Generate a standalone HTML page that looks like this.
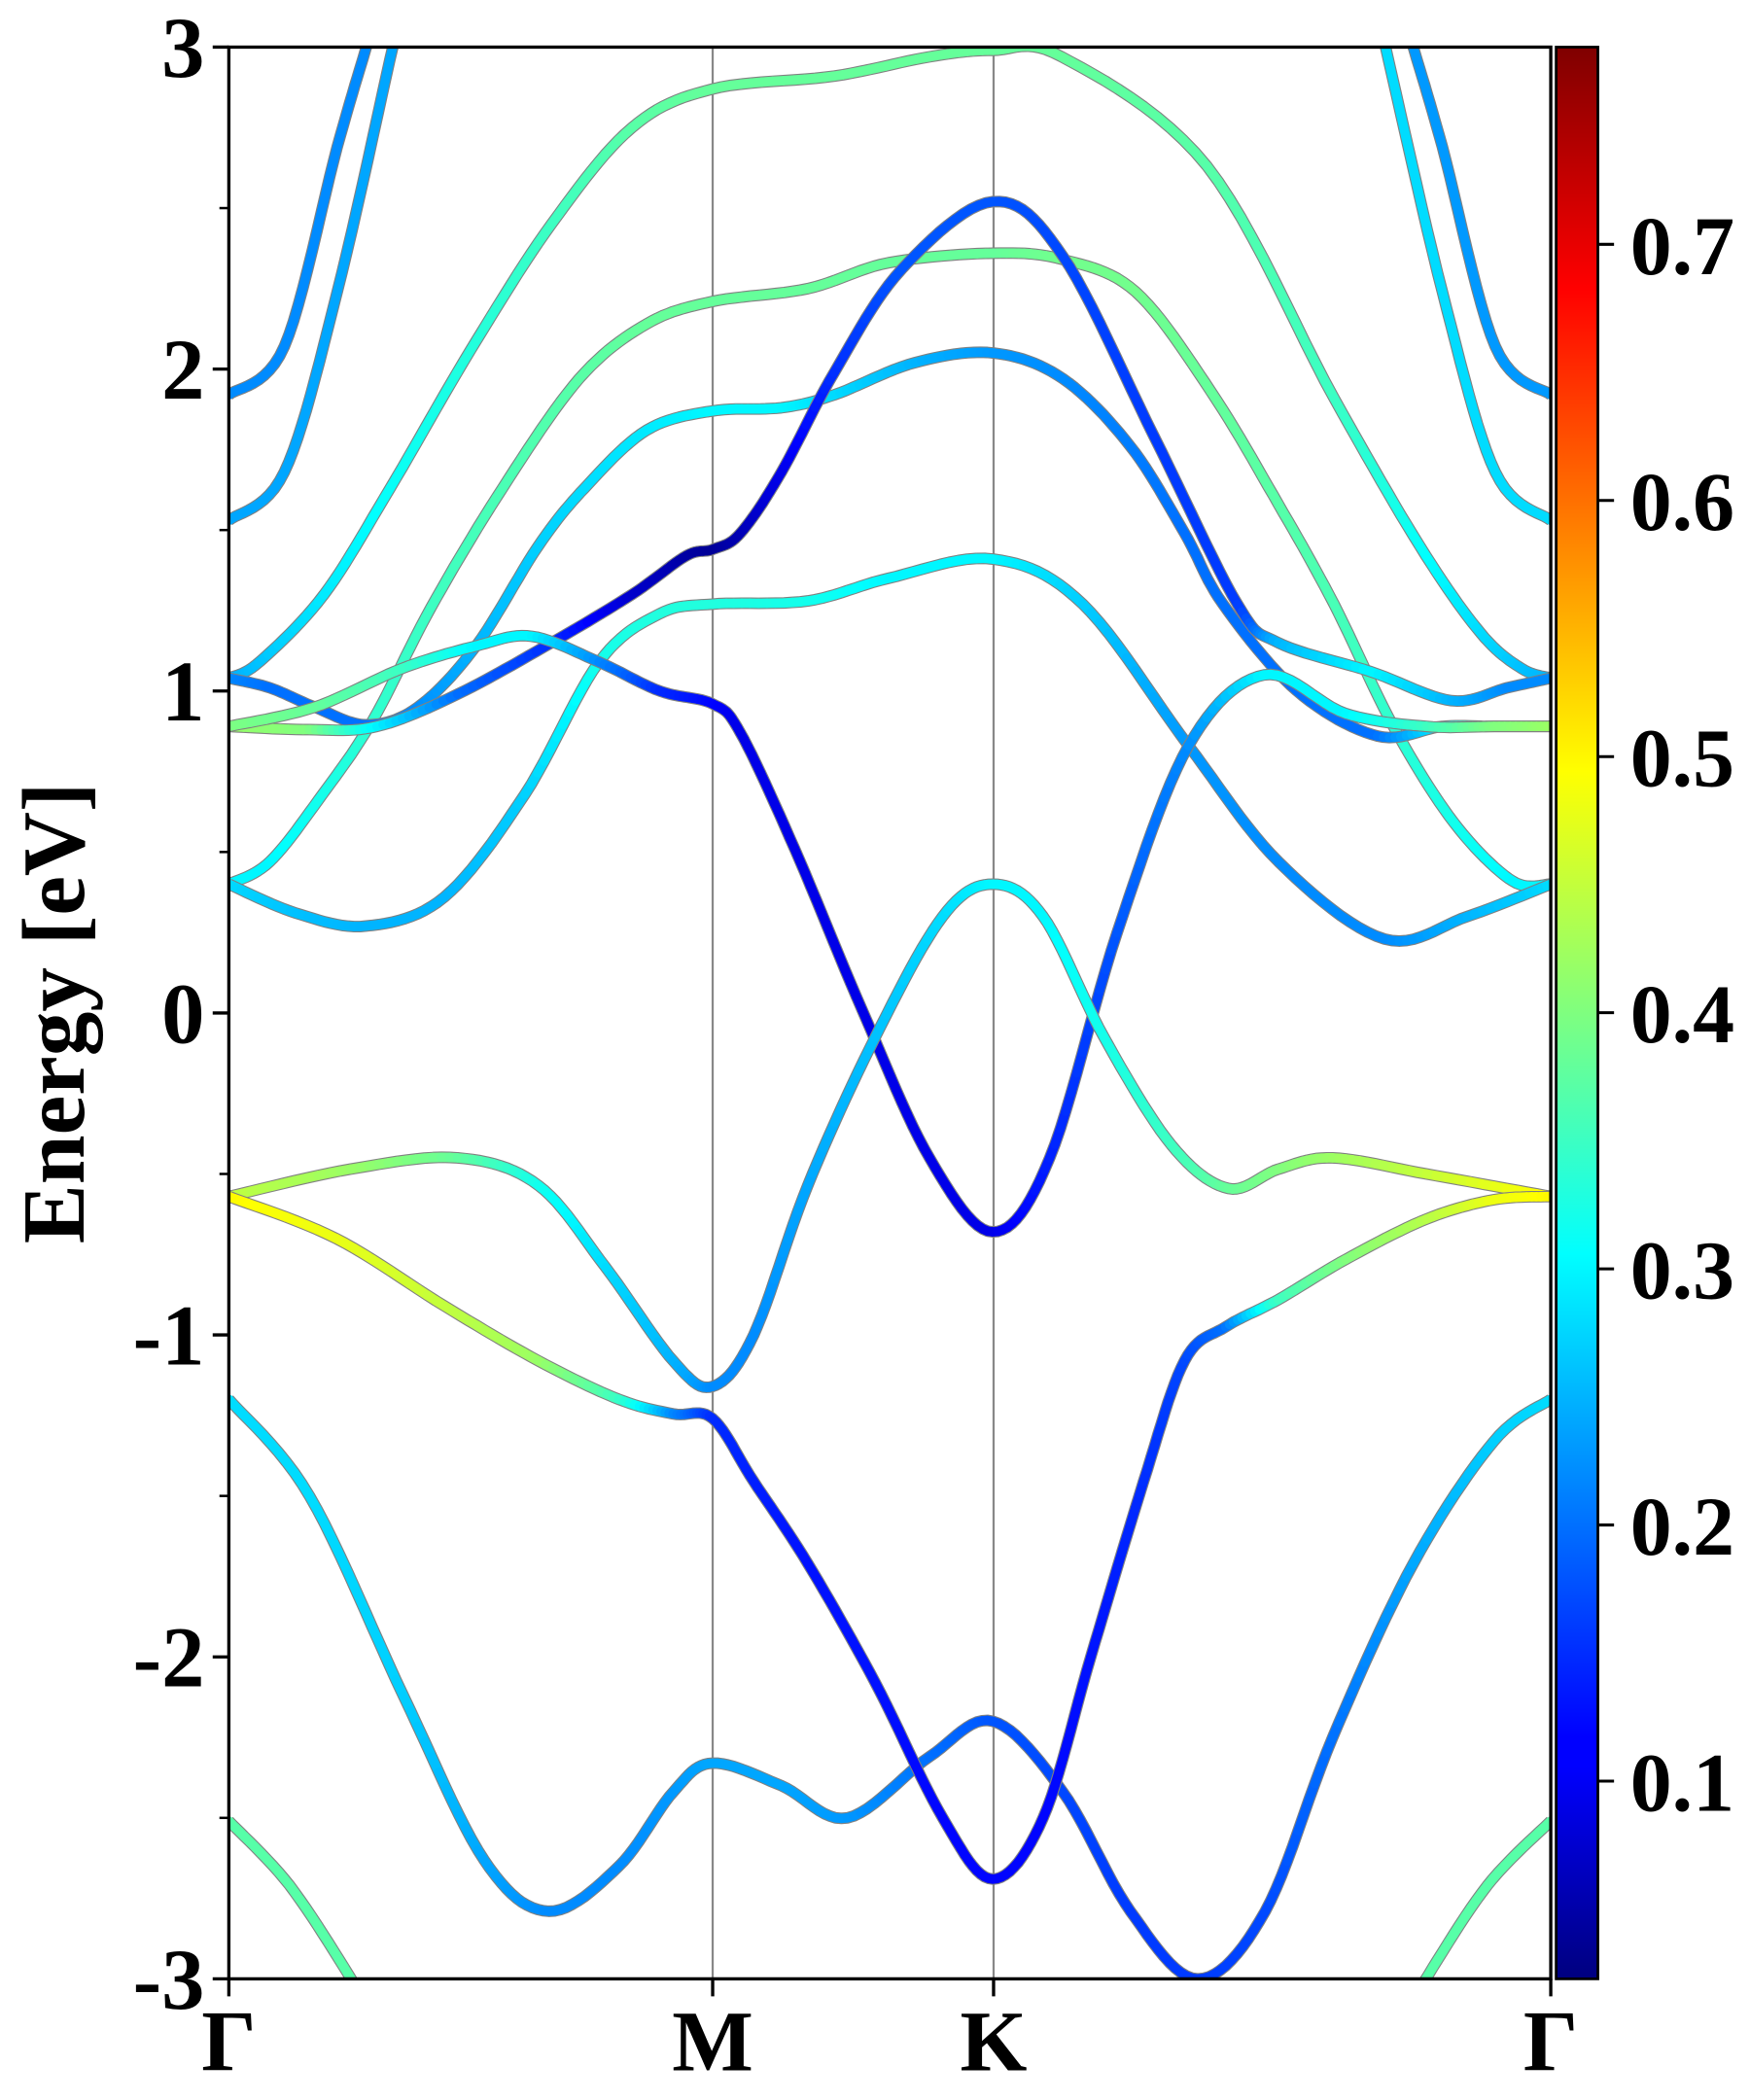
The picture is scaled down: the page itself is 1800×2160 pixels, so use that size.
<!DOCTYPE html>
<html><head><meta charset="utf-8"><style>
html,body{margin:0;padding:0;background:#fff;}
svg{display:block;}
text{font-family:"Liberation Serif",serif;font-weight:bold;fill:#000;}
</style></head><body>
<svg id="chart" xmlns="http://www.w3.org/2000/svg" width="1800" height="2160" viewBox="0 0 1300 1560" preserveAspectRatio="none">
<defs>
<clipPath id="plotclip"><rect x="170" y="35" width="982" height="1435"/></clipPath>
<linearGradient id="jet" x1="0" y1="1" x2="0" y2="0">
<stop offset="0" stop-color="#00007f"/><stop offset="0.11" stop-color="#0000ff"/><stop offset="0.125" stop-color="#0000ff"/>
<stop offset="0.375" stop-color="#00ffff"/><stop offset="0.5" stop-color="#7fff7f"/><stop offset="0.625" stop-color="#ffff00"/>
<stop offset="0.875" stop-color="#ff0000"/><stop offset="1" stop-color="#7f0000"/>
</linearGradient>
</defs>
<g id="bands" clip-path="url(#plotclip)"></g>
<g id="axes"></g>
</svg>
<script>
const kTicks = [0, 0.366, 0.5785, 1];
const kLabels = ["Γ", "M", "K", "Γ"];
const yTicks = [-3, -2, -1, 0, 1, 2, 3];
const yMinor = [-2.5, -1.5, -0.5, 0.5, 1.5, 2.5];
const cbTicks = [0.1, 0.2, 0.3, 0.4, 0.5, 0.6, 0.7];
const cbMin = 0.0228, cbMax = 0.777;

const b1k = [0,.023,.072,.122,.183,.244,.305,.366,.458,.530,.578,.630,.740,.836,.901,.947,.978,1];
const b1E = [1.04,1.09,1.30,1.63,2.06,2.45,2.75,2.87,2.91,2.97,2.99,2.97,2.63,1.91,1.45,1.18,1.07,1.04];
const b1w = [.24,.26,.29,.31,.33,.35,.37,.38,.38,.38,.38,.38,.37,.35,.31,.28,.26,.25];

const b2k = [0,.031,.071,.109,.153,.207,.265,.316,.366,.438,.499,.578,.631,.686,.743,.794,.836,.881,.927,.971,1];
const b2E = [.40,.47,.68,.91,1.26,1.63,1.97,2.14,2.21,2.25,2.33,2.36,2.34,2.24,1.93,1.58,1.27,.89,.59,.41,.40];
const b2w = [.3,.3,.32,.34,.35,.36,.37,.38,.38,.38,.38,.38,.39,.39,.38,.37,.36,.34,.32,.3,.3];

const b3k = [0,.031,.065,.104,.143,.187,.234,.269,.316,.366,.418,.458,.519,.578,.631,.682,.723,.752,.808,.869,.918,.957,1];
const b3E = [1.04,1.01,.95,.895,.95,1.14,1.45,1.63,1.81,1.87,1.88,1.92,2.02,2.05,1.97,1.76,1.49,1.27,1.00,.86,.89,.89,.89];
const b3w = [.22,.2,.2,.2,.22,.25,.27,.28,.29,.3,.3,.28,.25,.23,.22,.21,.2,.2,.2,.2,.3,.38,.4];

const b4k = [0,.061,.112,.173,.244,.305,.346,.366,.387,.418,.458,.509,.578,.631,.700,.763,.794,.864,.925,.967,1];
const b4E = [.89,.88,.89,.99,1.15,1.30,1.42,1.44,1.49,1.68,1.99,2.31,2.52,2.35,1.79,1.27,1.15,1.06,.97,1.01,1.04];
const b4w = [.42,.4,.3,.2,.15,.08,.05,.04,.06,.1,.15,.18,.18,.17,.16,.16,.25,.3,.25,.22,.22];

const b5k = [0,.065,.131,.187,.229,.280,.326,.366,.387,.428,.479,.530,.578,.621,.672,.726,.783,.845,.906,.957,1];
const b5E = [.89,.95,1.07,1.14,1.17,1.09,1.00,.96,.87,.51,.01,-.45,-.68,-.45,.25,.83,1.05,.93,.89,.89,.89];
const b5w = [.4,.38,.35,.3,.3,.22,.15,.12,.1,.1,.1,.1,.1,.14,.18,.22,.3,.3,.35,.4,.42];

const b6k = [0,.051,.104,.163,.224,.280,.326,.366,.438,.499,.578,.646,.726,.794,.874,.937,1];
const b6E = [.40,.31,.27,.36,.68,1.09,1.24,1.27,1.28,1.35,1.41,1.27,.83,.47,.23,.30,.40];
const b6w = [.28,.26,.25,.25,.27,.32,.33,.33,.32,.3,.3,.27,.23,.22,.22,.25,.28];

const b7k = [0,.092,.173,.234,.285,.336,.366,.397,.438,.489,.540,.578,.616,.662,.713,.756,.794,.835,.906,1];
const b7E = [-.57,-.485,-.45,-.535,-.79,-1.08,-1.16,-1.0,-.535,-.075,.30,.40,.30,-.075,-.41,-.545,-.485,-.45,-.50,-.57];
const b7w = [.45,.42,.38,.32,.28,.25,.22,.22,.24,.26,.28,.3,.3,.32,.35,.38,.4,.42,.45,.5];

const b8k = [0,.081,.163,.234,.295,.336,.366,.397,.438,.489,.540,.578,.616,.652,.692,.723,.754,.794,.845,.906,.957,1];
const b8E = [-.57,-.70,-.91,-1.08,-1.20,-1.245,-1.26,-1.455,-1.71,-2.08,-2.50,-2.69,-2.50,-2.0,-1.455,-1.08,-.975,-.89,-.765,-.64,-.58,-.57];
const b8w = [.5,.48,.45,.42,.35,.22,.15,.14,.13,.13,.12,.12,.12,.13,.15,.17,.2,.35,.4,.44,.48,.5];

const b9k = [0,.061,.132,.193,.242,.295,.336,.366,.418,.468,.530,.578,.631,.682,.733,.784,.835,.896,.957,1];
const b9E = [-1.20,-1.50,-2.12,-2.63,-2.79,-2.65,-2.42,-2.33,-2.40,-2.50,-2.31,-2.20,-2.42,-2.79,-3.00,-2.79,-2.25,-1.71,-1.33,-1.20];
const b9w = [.28,.28,.27,.24,.22,.22,.23,.24,.24,.23,.2,.18,.17,.16,.16,.17,.2,.24,.27,.28];

const b10Lk = [0,.046,.094,.122];
const b10Rk = [1,.952,.904,.876];
const b10E = [-2.51,-2.71,-3.01,-3.21];
const b10w = [.37,.37,.37,.37];

const topLk1 = [0,.042,.082,.104,.108];
const topRk1 = [1,.958,.918,.896,.892];
const topE1 = [1.92,2.07,2.69,3.0,3.06];
const topLk2 = [0,.042,.082,.124,.128];
const topRk2 = [1,.958,.918,.875,.871];
const topE2 = [1.53,1.68,2.24,3.0,3.06];
const topWL1 = [.22,.22,.22,.22,.22];
const topWR1 = [.23,.23,.23,.23,.23];
const topWL2 = [.24,.24,.24,.24,.24];
const topWR2 = [.28,.28,.28,.28,.28];

const X0 = 170, X1 = 1152, Y0 = 1470, Y1 = 35, Emin = -3, Emax = 3;
function xS(k){ return X0 + k*(X1-X0); }
function yS(e){ return Y0 - (e-Emin)/(Emax-Emin)*(Y0-Y1); }
function jet(w){
  let t = (w-cbMin)/(cbMax-cbMin); t = Math.max(0,Math.min(1,t));
  const r = Math.max(0,Math.min(1,1.5-Math.abs(4*t-3)));
  const g = Math.max(0,Math.min(1,1.5-Math.abs(4*t-2)));
  const b = Math.max(0,Math.min(1,1.5-Math.abs(4*t-1)));
  return `rgb(${Math.round(r*255)},${Math.round(g*255)},${Math.round(b*255)})`;
}
const NS = "http://www.w3.org/2000/svg";
const bandsG = document.getElementById('bands');
const axesG = document.getElementById('axes');

function sampleBand(ks, Es, ws){
  const P = ks.map((k,i)=>[xS(k), yS(Es[i])]);
  const out = [];
  const n = P.length, N = 12;
  for(let i=0;i<n-1;i++){
    const p0 = P[Math.max(0,i-1)], p1 = P[i], p2 = P[i+1], p3 = P[Math.min(n-1,i+2)];
    for(let j=0;j<N;j++){
      const t = j/N, t2=t*t, t3=t2*t;
      const x = 0.5*((2*p1[0])+(-p0[0]+p2[0])*t+(2*p0[0]-5*p1[0]+4*p2[0]-p3[0])*t2+(-p0[0]+3*p1[0]-3*p2[0]+p3[0])*t3);
      const y = 0.5*((2*p1[1])+(-p0[1]+p2[1])*t+(2*p0[1]-5*p1[1]+4*p2[1]-p3[1])*t2+(-p0[1]+3*p1[1]-3*p2[1]+p3[1])*t3);
      out.push([x,y, ws[i]+(ws[i+1]-ws[i])*t]);
    }
  }
  out.push([P[n-1][0],P[n-1][1],ws[n-1]]);
  return out;
}
function drawBand(name, ks, Es, ws){
  const pts = sampleBand(ks, Es, ws);
  const g = document.createElementNS(NS,'g');
  
  
  const outline = document.createElementNS(NS,'polyline');
  
  
  outline.setAttribute('points', pts.map(p=>p[0].toFixed(1)+','+p[1].toFixed(1)).join(' '));
  outline.setAttribute('fill','none'); outline.setAttribute('stroke','#808080');
  outline.setAttribute('stroke-width','8.6'); outline.setAttribute('stroke-linejoin','round');
  g.appendChild(outline);
  for(let i=0;i<pts.length-1;i++){
    const l = document.createElementNS(NS,'line');
    
    
    l.setAttribute('x1',pts[i][0].toFixed(1)); l.setAttribute('y1',pts[i][1].toFixed(1));
    l.setAttribute('x2',pts[i+1][0].toFixed(1)); l.setAttribute('y2',pts[i+1][1].toFixed(1));
    l.setAttribute('stroke', jet((pts[i][2]+pts[i+1][2])/2));
    l.setAttribute('stroke-width','7'); l.setAttribute('stroke-linecap','round');
    g.appendChild(l);
  }
  bandsG.appendChild(g);
}
function mk(tag, attrs, name, parent){
  const e = document.createElementNS(NS, tag);
  for(const a in attrs) e.setAttribute(a, attrs[a]);
  
  
  (parent||axesG).appendChild(e);
  return e;
}
[1,2].forEach(i=>{
  const l = document.createElementNS(NS,'line');
  
  
  l.setAttribute('x1', xS(kTicks[i])); l.setAttribute('x2', xS(kTicks[i]));
  l.setAttribute('y1', Y1); l.setAttribute('y2', Y0);
  l.setAttribute('stroke', '#888'); l.setAttribute('stroke-width', '1.6');
  bandsG.appendChild(l);
});
drawBand('band-1', b1k, b1E, b1w);
drawBand('band-2', b2k, b2E, b2w);
drawBand('band-3', b3k, b3E, b3w);
drawBand('band-4', b4k, b4E, b4w);
drawBand('band-6', b6k, b6E, b6w);
drawBand('band-5', b5k, b5E, b5w);
drawBand('band-7', b7k, b7E, b7w);
drawBand('band-9', b9k, b9E, b9w);
drawBand('band-8', b8k, b8E, b8w);
drawBand('band-10-left', b10Lk, b10E, b10w);
drawBand('band-10-right', b10Rk, b10E, b10w);
drawBand('band-11-left', topLk1, topE1, topWL1);
drawBand('band-11-right', topRk1, topE1, topWR1);
drawBand('band-12-left', topLk2, topE2, topWL2);
drawBand('band-12-right', topRk2, topE2, topWR2);

mk('rect',{x:X0,y:Y1,width:X1-X0,height:Y0-Y1,fill:'none',stroke:'#000','stroke-width':2.4},'plot-frame');
yTicks.forEach(v=>{
  mk('line',{x1:X0-12,x2:X0,y1:yS(v),y2:yS(v),stroke:'#000','stroke-width':2.4},'y-tick');
  const t = mk('text',{x:X0-18,y:yS(v)+22,'text-anchor':'end','font-size':64},'y-tick-label');
  t.textContent = String(v);
});
yMinor.forEach(v=>{
  mk('line',{x1:X0-7,x2:X0,y1:yS(v),y2:yS(v),stroke:'#000','stroke-width':1.8},'y-minor-tick');
});
kTicks.forEach((k,i)=>{
  mk('line',{x1:xS(k),x2:xS(k),y1:Y0,y2:Y0+13,stroke:'#000','stroke-width':2.4},'x-tick');
  const t = mk('text',{x:xS(k),y:Y0+68,'text-anchor':'middle','font-size':64},'x-tick-label');
  t.textContent = kLabels[i];
});
const yl = mk('text',{x:0,y:0,'text-anchor':'middle','font-size':66,transform:`translate(62,${yS(0)}) rotate(-90)`},'y-axis-title');
yl.textContent = 'Energy [eV]';
const CB0 = 1156, CB1 = 1187;
mk('rect',{x:CB0,y:Y1,width:CB1-CB0,height:Y0-Y1,fill:'url(#jet)',stroke:'#000','stroke-width':2},'colorbar');
function cbY(v){ return Y0 - (v-cbMin)/(cbMax-cbMin)*(Y0-Y1); }
cbTicks.forEach(v=>{
  mk('line',{x1:CB1,x2:CB1+12,y1:cbY(v),y2:cbY(v),stroke:'#000','stroke-width':2.2},'colorbar-tick');
  const t = mk('text',{x:CB1+24,y:cbY(v)+22,'font-size':62},'colorbar-tick-label');
  t.textContent = v.toFixed(1);
});
</script>
</body></html>
